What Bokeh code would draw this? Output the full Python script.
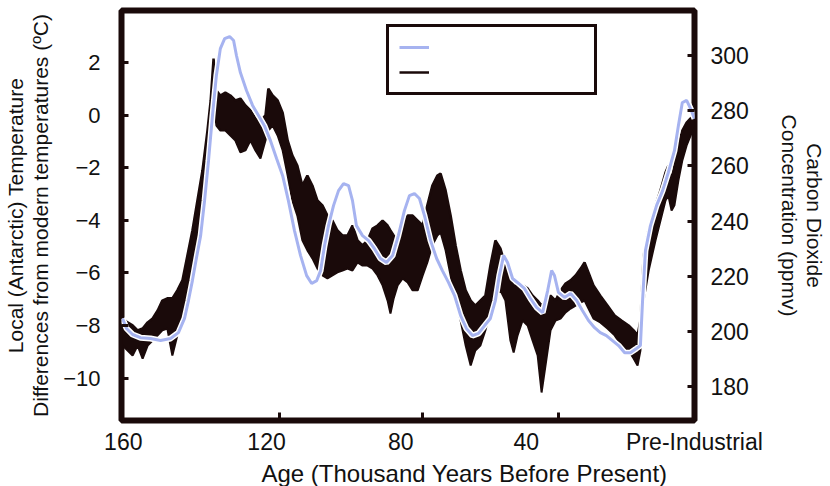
from bokeh.plotting import figure
from bokeh.models import LinearAxis, FixedTicker, Range1d, Legend, LegendItem, Title
from bokeh.embed import file_html
from bokeh.resources import INLINE

# ---------------- data ----------------
# Temperature difference (deg C), left axis
temp_age = [159.7, 158.6, 156.9, 154.7, 151.9, 149.1, 146.3, 144.1, 142.4, 141.3,
            140.2, 139.1, 137.9, 136.8, 135.7, 134.6, 133.5, 132.4, 131.2, 129.8,
            128.7, 127.9, 126.8, 125.1, 123.4, 121.7, 120.1, 118.4, 116.7, 115.0,
            113.4, 111.7, 110.0, 108.3, 106.9, 105.5, 104.4, 103.3, 102.2, 100.8,
            99.4, 98.0, 96.6, 95.5, 94.4, 92.7, 91.0, 89.4, 87.7, 86.0,
            84.3, 82.7, 81.0, 79.6, 78.2, 76.8, 75.4, 73.7, 72.0, 70.4,
            68.7, 67.0, 65.3, 63.7, 62.0, 60.3, 58.6, 57.0, 55.6, 54.5,
            53.3, 52.2, 50.8, 49.1, 47.5, 45.8, 44.1, 42.4, 41.0, 39.9,
            39.1, 38.0, 36.3, 34.6, 32.9, 31.3, 29.6, 27.9, 26.3, 24.6,
            22.9, 21.2, 19.5, 17.9, 16.2, 15.1, 14.5, 13.7, 12.3, 10.6,
            8.9, 7.3, 5.6, 4.5, 3.4, 2.2, 1.1, 0.0]
temp_val = [-7.73, -8.11, -8.34, -8.46, -8.49, -8.57, -8.49, -8.27, -7.73, -7.05,
            -6.29, -5.45, -4.58, -3.25, -1.73, -0.02, 1.51, 2.53, 2.91, 2.99,
            2.84, 2.27, 1.62, 0.94, 0.37, -0.02, -0.40, -0.97, -1.65, -2.30,
            -3.25, -4.39, -5.34, -6.10, -6.40, -6.29, -5.91, -4.96, -4.20, -3.44,
            -2.87, -2.60, -2.68, -3.25, -4.20, -4.58, -4.77, -5.07, -5.45, -5.60,
            -5.34, -4.58, -3.63, -3.06, -2.98, -3.17, -3.82, -4.77, -5.45, -5.91,
            -6.36, -6.86, -7.62, -8.11, -8.38, -8.30, -8.00, -7.73, -7.05, -6.10,
            -5.34, -5.60, -6.21, -6.40, -6.59, -6.97, -7.31, -7.51, -6.67, -5.91,
            -6.10, -6.74, -6.93, -6.78, -7.05, -7.43, -7.81, -8.08, -8.27, -8.38,
            -8.57, -8.76, -9.03, -9.03, -8.87, -8.76, -7.05, -5.15, -4.20, -3.44,
            -2.87, -2.18, -1.35, -0.40, 0.48, 0.56, 0.25, -0.13]

# Carbon dioxide envelope (ppmv), right axis
co2_age = [159.7, 158.3, 156.9, 155.5, 154.1, 152.7, 151.3, 149.9, 148.6, 147.2,
           145.8, 144.4, 143.0, 141.6, 140.2, 138.8, 137.4, 136.0, 135.1, 134.3,
           133.5, 132.4, 131.0, 129.6, 128.2, 126.8, 125.4, 124.0, 122.6, 121.2,
           119.8, 119.0, 117.8, 116.4, 115.0, 113.6, 112.3, 110.9, 109.5, 108.1,
           106.7, 105.3, 103.9, 102.5, 101.1, 99.7, 98.3, 96.9, 95.5, 94.1,
           92.7, 91.3, 89.9, 88.5, 87.1, 85.7, 84.9, 84.0, 82.9, 81.5,
           80.1, 78.7, 77.3, 75.9, 74.6, 73.2, 71.8, 70.9, 69.5, 68.1,
           66.7, 65.3, 63.9, 62.5, 61.2, 59.8, 58.4, 57.0, 55.6, 54.2,
           52.8, 51.4, 50.5, 49.4, 48.0, 46.6, 45.2, 43.8, 42.7, 41.6,
           40.2, 38.8, 37.4, 36.0, 34.6, 33.2, 31.8, 30.7, 29.6, 28.2,
           26.3, 24.3, 22.3, 20.4, 18.4, 17.0, 15.9, 15.1, 14.2, 12.8,
           10.9, 9.5, 8.1, 7.3, 6.4, 5.6, 4.5, 3.4, 2.2, 1.1, 0.0]
co2_high = [204.7, 203.3, 202.2, 200.4, 201.1, 203.3, 204.7, 207.6, 211.2, 212.0,
            212.0, 214.9, 218.5, 227.5, 236.6, 247.5, 258.3, 272.8, 283.7, 298.9,
            287.3, 285.5, 286.6, 285.5, 283.7, 284.4, 281.9, 280.1, 277.2, 276.4,
            278.3, 288.0, 285.5, 283.7, 279.3, 269.2, 263.8, 260.1, 252.9, 256.5,
            252.9, 247.5, 245.7, 242.0, 240.2, 236.6, 234.8, 234.8, 238.4, 233.0,
            231.2, 233.0, 237.3, 238.4, 240.2, 238.4, 236.6, 234.8, 233.0, 238.4,
            242.0, 242.0, 240.2, 238.4, 245.7, 252.9, 256.5, 257.2, 251.1, 242.0,
            231.2, 222.1, 214.9, 211.2, 209.4, 211.2, 213.0, 223.9, 233.0, 230.1,
            223.9, 218.5, 216.7, 216.7, 216.7, 215.6, 213.0, 211.2, 209.4, 211.2,
            213.0, 211.2, 214.9, 217.4, 218.5, 220.3, 222.8, 225.0, 221.4, 216.7,
            213.0, 209.4, 205.8, 204.0, 202.2, 200.4, 198.6, 204.0, 227.5, 237.3,
            245.7, 251.1, 257.6, 260.1, 254.7, 260.1, 267.4, 272.8, 275.7, 277.2, 278.3]
co2_low = [194.9, 193.1, 191.3, 194.9, 190.2, 194.9, 196.7, 198.6, 200.4, 201.1,
           191.3, 198.6, 204.0, 211.2, 222.1, 231.2, 242.0, 256.5, 269.2, 283.7,
           274.6, 272.8, 272.8, 271.0, 269.2, 264.9, 265.6, 269.2, 265.6, 262.7,
           269.2, 272.8, 274.6, 271.0, 265.6, 256.5, 247.5, 242.0, 233.0, 229.4,
           226.5, 222.8, 220.3, 219.2, 220.3, 221.4, 222.1, 222.8, 222.1, 225.0,
           223.9, 223.9, 222.8, 220.3, 216.7, 211.2, 206.5, 212.0, 216.7, 219.2,
           217.8, 214.9, 214.9, 220.3, 225.0, 231.2, 234.8, 235.9, 229.4, 220.3,
           211.2, 204.0, 194.9, 187.7, 193.1, 194.9, 200.4, 207.6, 213.0, 214.9,
           211.2, 196.7, 192.4, 198.6, 204.0, 202.2, 196.7, 191.3, 177.9, 187.7,
           200.4, 204.0, 204.7, 206.9, 208.3, 209.4, 210.5, 211.2, 208.3, 204.7,
           203.3, 201.1, 198.6, 194.9, 193.1, 190.2, 187.7, 193.1, 211.2, 222.1,
           233.0, 240.2, 247.5, 249.3, 243.8, 245.7, 254.7, 262.0, 267.4, 271.0, 273.6]

temp_ticks = [-10, -8, -6, -4, -2, 0, 2]
co2_ticks = [180, 200, 220, 240, 260, 280, 300]
age_label_pos = [159.5, 119.5, 82.0, 47.0, 0.0]
age_label_text = ["160", "120", "80", "40", "Pre-Industrial"]
age_tick_marks = [116.0, 76.0, 38.0]
x_title = "Age (Thousand Years Before Present)"

# ---------------- style ----------------
FONT = "Liberation Sans"
DARK = "#1a0a0a"
BLUE = "#a6b3f0"
TXT = "#111111"

p = figure(frame_width=573, frame_height=410,
           x_range=Range1d(160, 0), y_range=Range1d(-11.61, 3.98),
           x_axis_location=None, y_axis_location=None,
           output_backend="svg", toolbar_location=None,
           min_border_left=121, min_border_right=136,
           min_border_top=10, min_border_bottom=66,
           background_fill_color="white", border_fill_color="white")
p.grid.visible = False
p.outline_line_color = DARK
p.outline_line_width = 6
p.extra_y_ranges = {"co2": Range1d(167.75, 316.3)}

p.varea(x=co2_age, y1=co2_low, y2=co2_high, y_range_name="co2", fill_color=DARK)
edge_hi = p.line(co2_age, co2_high, y_range_name="co2", line_color=DARK, line_width=2.5)
p.line(co2_age, co2_low, y_range_name="co2", line_color=DARK, line_width=2)
p.line(temp_age, temp_val, line_color="white", line_width=6)
blue = p.line(temp_age, temp_val, line_color=BLUE, line_width=3)


def style_axis(ax, size="23px"):
    ax.axis_line_color = None
    ax.minor_tick_line_color = None
    ax.major_tick_line_color = DARK
    ax.major_tick_line_width = 3
    ax.major_tick_in = 7
    ax.major_tick_out = 0
    ax.major_label_text_font = FONT
    ax.major_label_text_font_size = size
    ax.major_label_text_color = TXT
    ax.axis_label_text_font = FONT
    ax.axis_label_text_font_style = "normal"
    ax.axis_label_text_color = TXT
    ax.axis_label_text_line_height = 1.1


ax_left = LinearAxis(ticker=FixedTicker(ticks=temp_ticks),
                     axis_label="Local (Antarctic) Temperature\nDifferences from modern temperatures (ºC)")
style_axis(ax_left, "22px")
ax_left.major_label_standoff = 21
ax_left.axis_label_standoff = 8
ax_left.axis_label_text_font_size = "21px"
p.add_layout(ax_left, "left")

ax_right = LinearAxis(y_range_name="co2", ticker=FixedTicker(ticks=co2_ticks),
                      axis_label="Carbon Dioxide\nConcentration (ppmv)")
style_axis(ax_right)
ax_right.major_label_standoff = 16
ax_right.axis_label_standoff = 26
ax_right.axis_label_text_font_size = "21px"
p.add_layout(ax_right, "right")

ax_marks = LinearAxis(ticker=FixedTicker(ticks=age_tick_marks),
                      major_label_overrides={t: "" for t in age_tick_marks})
style_axis(ax_marks, "0px")
ax_marks.major_tick_in = 8
ax_marks.major_label_standoff = 0
p.add_layout(ax_marks, "below")

ax_bottom = LinearAxis(ticker=FixedTicker(ticks=age_label_pos),
                       major_label_overrides=dict(zip(age_label_pos, age_label_text)))
style_axis(ax_bottom)
ax_bottom.major_tick_line_color = None
ax_bottom.major_tick_in = 0
ax_bottom.major_label_standoff = 8
p.add_layout(ax_bottom, "below")

p.add_layout(Title(text=x_title, align="left", offset=140, standoff=0,
                   text_font=FONT, text_font_size="24px", text_font_style="normal",
                   text_color=TXT), "below")

legend = Legend(items=[LegendItem(label=" ", renderers=[blue]),
                       LegendItem(label=" ", renderers=[edge_hi])],
                location=(265, 325))
legend.border_line_color = DARK
legend.border_line_width = 3
legend.border_line_alpha = 1.0
legend.background_fill_color = "white"
legend.background_fill_alpha = 1.0
legend.padding = 10
legend.spacing = 5
legend.margin = 0
legend.glyph_width = 30
legend.glyph_height = 20
legend.label_height = 20
legend.label_width = 150
legend.label_standoff = 5
p.add_layout(legend, "center")

open("out.html", "w").write(file_html(p, INLINE))
